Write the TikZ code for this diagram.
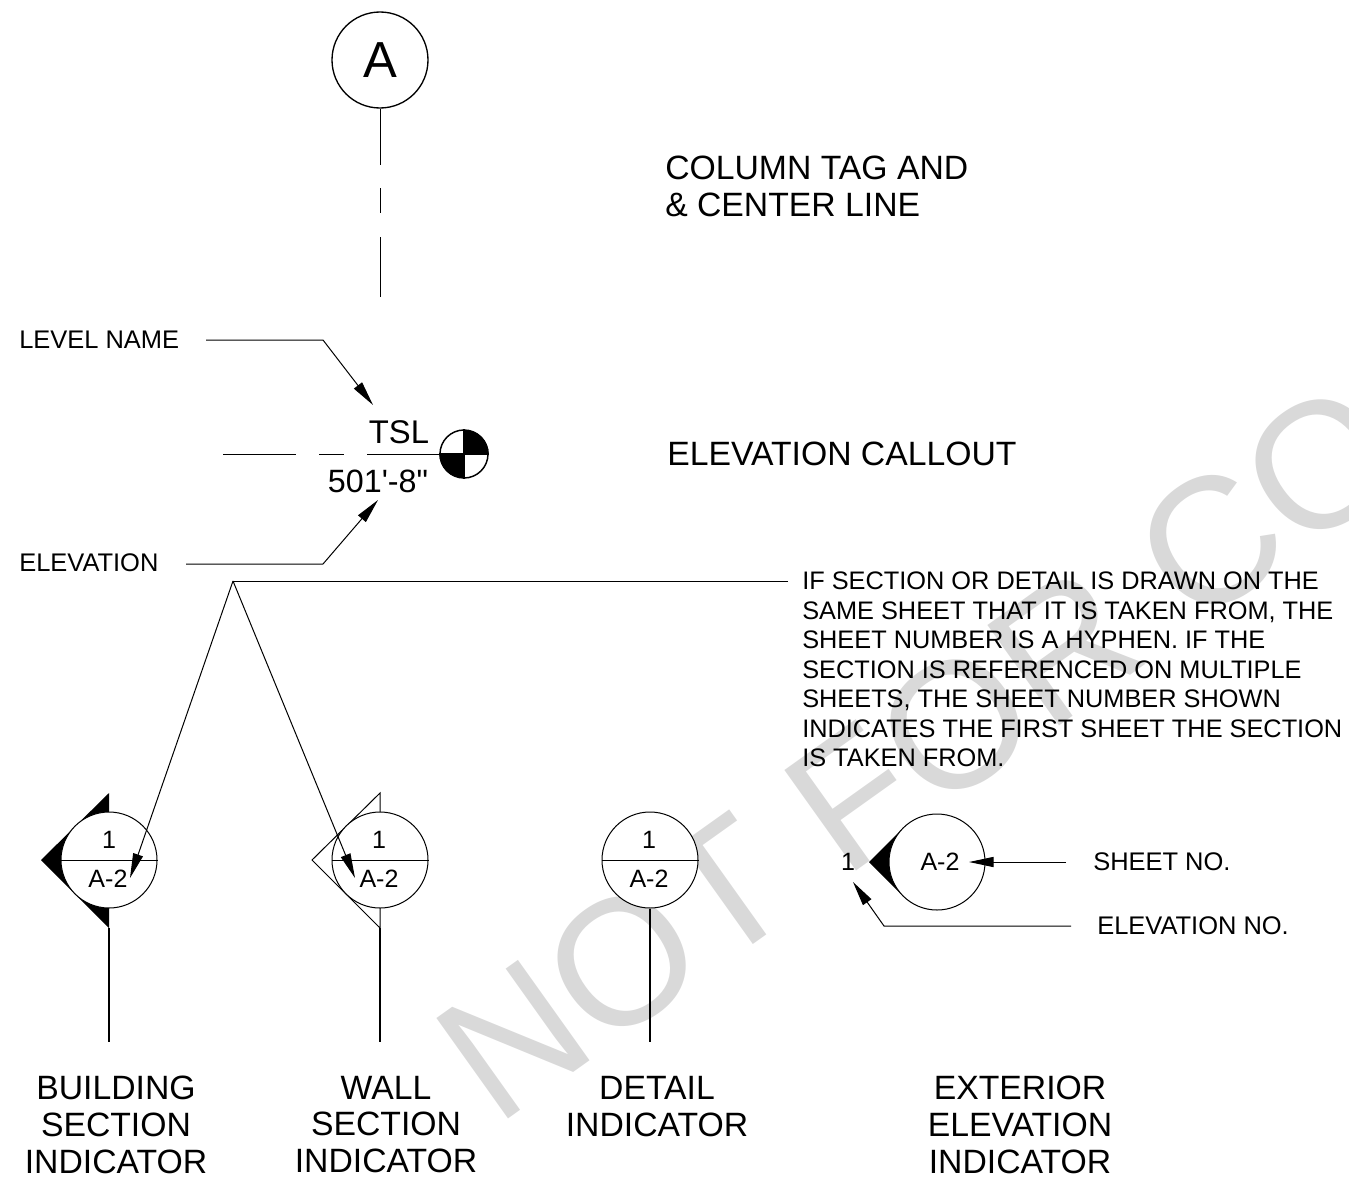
\documentclass[tikz,border=0pt]{standalone}
\usepackage{fontspec}
\setmainfont{Liberation Sans}[Ligatures=TeXOff]
\usetikzlibrary{arrows.meta}
\tikzset{
  px/.style={x=0.75pt,y=-0.75pt},
  thin line/.style={draw=black,line width=0.75pt},
  thick line/.style={draw=black,line width=1.5pt},
  lead/.style={draw=black,line width=0.75pt,-{Triangle[length=18.5pt,width=7.6pt]}},
  big/.style={inner sep=0pt,font=\fontsize{25.3pt}{27.7pt}\selectfont,align=center},
  mid/.style={inner sep=0pt,font=\fontsize{19.1pt}{21.5pt}\selectfont,anchor=west},
  note/.style={inner sep=0pt,font=\fontsize{19pt}{22.1pt}\selectfont,align=left,anchor=north west},
  tag/.style={inner sep=0pt,font=\fontsize{18.8pt}{20pt}\selectfont},
  bubble/.style={circle,draw=black,line width=0.75pt,minimum size=72pt,inner sep=0pt,fill=white},
}
\begin{document}
\begin{tikzpicture}[px]
\useasboundingbox (0,0) rectangle (1349,1178);
\clip (0,0) rectangle (1349,1178);
% watermark
\node[rotate=35.5,anchor=base west,inner sep=0pt,text=black!15,font=\fontsize{134.5pt}{134.5pt}\selectfont] (wm) at (496,1128) {NOT FOR CO};
% column tag
\node[circle,draw=black,line width=1pt,minimum size=72pt,inner sep=0pt,font=\fontsize{38pt}{40pt}\selectfont] (a) at (380,60) {A};
\coordinate (c1) at (380,165);
\coordinate (c2) at (380,188);
\coordinate (c3) at (380,213);
\coordinate (c4) at (380,237);
\coordinate (c5) at (380,297);
\draw[thin line] (a) -- (c1) (c2) -- (c3) (c4) -- (c5);
\node[big,anchor=north west,align=left] (t1) at (665,156) {COLUMN TAG AND\\\& CENTER LINE};
% elevation
\node[big,anchor=west] (t2) at (667,454) {ELEVATION CALLOUT};
\node[mid] (ln) at (19,340) {LEVEL NAME};
\node[mid] (ev) at (19,563) {ELEVATION};
\coordinate (ln1) at (206,340);
\coordinate (ln2) at (323,340);
\coordinate (ln3) at (373,405);
\draw[lead] (ln1) -- (ln2) -- (ln3);
\coordinate (ev1) at (186,564);
\coordinate (ev2) at (323,564);
\coordinate (ev3) at (378,500);
\draw[lead] (ev1) -- (ev2) -- (ev3);
\node[big,font=\fontsize{24.6pt}{27pt}\selectfont] (tsl) at (399,432) {TSL};
\node[big,font=\fontsize{24.2pt}{27pt}\selectfont] (elv) at (378,481) {501'-8"};
\coordinate (e1) at (223,454);
\coordinate (e2) at (296,454);
\coordinate (e3) at (319,454);
\coordinate (e4) at (344,454);
\coordinate (e5) at (367,454);
\node[circle,draw=black,line width=1.1pt,minimum size=36pt,inner sep=0pt] (dat) at (464,454) {};
\fill[black] (dat.center) -- (dat.west) arc[start angle=180,end angle=90,radius=24] -- cycle;
\fill[black] (dat.center) -- (dat.east) arc[start angle=0,end angle=-90,radius=24] -- cycle;
\draw[line width=1.1pt] (dat.north) -- (dat.south) (dat.west) -- (dat.east);
\draw[thin line] (e1) -- (e2) (e3) -- (e4) (e5) -- (dat.west);
% note
\node[note] (note) at (802,572) {IF SECTION OR DETAIL IS DRAWN ON THE\\SAME SHEET THAT IT IS TAKEN FROM, THE\\SHEET NUMBER IS A HYPHEN. IF THE\\SECTION IS REFERENCED ON MULTIPLE\\SHEETS, THE SHEET NUMBER SHOWN\\INDICATES THE FIRST SHEET THE SECTION\\IS TAKEN FROM.};
% indicators
\coordinate (s1t) at (109,793);
\coordinate (s1p) at (41,860);
\coordinate (s1b) at (109,928);
\coordinate (s1e) at (109,1042);
\fill[black] (s1t) -- (s1p) -- (s1b) -- cycle;
\draw[thick line] (s1b) -- (s1e);
\node[bubble] (b1) at (109,860) {};
\draw[thin line] (b1.west) -- (b1.east);
\node[tag] (b1u) at (109,840) {1};
\node[tag] (b1l) at (108,879) {A-2};
\coordinate (s2t) at (380,793);
\coordinate (s2p) at (312,860);
\coordinate (s2b) at (380,928);
\coordinate (s2e) at (380,1042);
\draw[thin line] (s2t) -- (s2p) -- (s2b) -- cycle;
\draw[thick line] (s2b) -- (s2e);
\node[bubble] (b2) at (380,860) {};
\draw[thin line] (b2.west) -- (b2.east);
\node[tag] (b2u) at (379,840) {1};
\node[tag] (b2l) at (379,879) {A-2};
\node[bubble] (b3) at (650,860) {};
\draw[thin line] (b3.west) -- (b3.east);
\coordinate (s3e) at (650,1042);
\draw[thick line] (b3.south) -- (s3e);
\node[tag] (b3u) at (649,840) {1};
\node[tag] (b3l) at (649,879) {A-2};
% exterior
\coordinate (x1) at (869,862);
\fill[black] (x1) -- (905,826) -- (905,898) -- cycle;
\node[bubble] (b4) at (937,862) {};
\node[tag] (b4l) at (940,862) {A-2};
\node[tag] (one) at (848,862) {1};
\node[mid] (sn) at (1093,862) {SHEET NO.};
\node[mid] (en) at (1097,926) {ELEVATION NO.};
\coordinate (sn1) at (1066,862);
\coordinate (sn2) at (969,862);
\draw[lead] (sn1) -- (sn2);
\coordinate (en1) at (1071,926);
\coordinate (en2) at (884,926);
\coordinate (en3) at (853,882);
\draw[lead] (en1) -- (en2) -- (en3);
% fan
\coordinate (f0) at (233,581);
\coordinate (f1) at (788,581);
\coordinate (f2) at (130,878);
\coordinate (f3) at (355,878);
\draw[thin line] (f1) -- (f0);
\draw[lead] (f0) -- (f2);
\draw[lead] (f0) -- (f3);
% labels
\node[big] (l1) at (116,1124.5) {BUILDING\\SECTION\\INDICATOR};
\node[big] (l2) at (386,1124.5) {WALL\\SECTION\\INDICATOR};
\node[big,anchor=north] (l3) at (657,1076) {DETAIL\\INDICATOR};
\node[big] (l4) at (1020,1124.5) {EXTERIOR\\ELEVATION\\INDICATOR};
\end{tikzpicture}
\end{document}
